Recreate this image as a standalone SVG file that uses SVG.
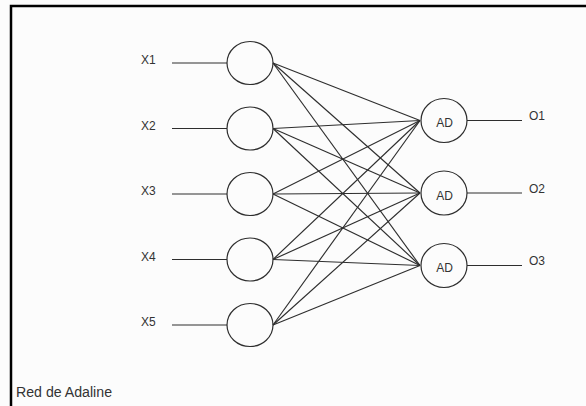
<svg xmlns="http://www.w3.org/2000/svg" width="586" height="406" viewBox="0 0 586 406">
<style>
.bg{fill:#fcfcfc}
.frame{stroke:#000;stroke-width:2.5;fill:none}
.node{fill:none;stroke:#2e2e2e;stroke-width:1.2}
.ln{stroke:#2e2e2e;stroke-width:1.15;fill:none}
.t{font-family:"Liberation Sans",Arial,sans-serif;font-size:12px;fill:#333}
.cap{font-family:"Liberation Sans",Arial,sans-serif;font-size:15.5px;fill:#333}
</style>
<rect class="bg" x="0" y="0" width="586" height="406"/>
<path class="frame" d="M11,406 V6 H586"/>
<g id="connectors">
<line class="ln" x1="172" y1="63" x2="227" y2="63"/>
<line class="ln" x1="172" y1="128.5" x2="227" y2="128.5"/>
<line class="ln" x1="172" y1="194" x2="227" y2="194"/>
<line class="ln" x1="172" y1="259.5" x2="227" y2="259.5"/>
<line class="ln" x1="172" y1="325" x2="227" y2="325"/>
<line class="ln" x1="467" y1="120.5" x2="522" y2="120.5"/>
<line class="ln" x1="467" y1="193" x2="522" y2="193"/>
<line class="ln" x1="467" y1="265.5" x2="522" y2="265.5"/>
<g id="weights">
<line class="ln" x1="273" y1="63" x2="420" y2="120.5"/>
<line class="ln" x1="273" y1="63" x2="420" y2="193"/>
<line class="ln" x1="273" y1="63" x2="420" y2="265.5"/>
<line class="ln" x1="273" y1="128.5" x2="420" y2="120.5"/>
<line class="ln" x1="273" y1="128.5" x2="420" y2="193"/>
<line class="ln" x1="273" y1="128.5" x2="420" y2="265.5"/>
<line class="ln" x1="273" y1="194" x2="420" y2="120.5"/>
<line class="ln" x1="273" y1="194" x2="420" y2="193"/>
<line class="ln" x1="273" y1="194" x2="420" y2="265.5"/>
<line class="ln" x1="273" y1="259.5" x2="420" y2="120.5"/>
<line class="ln" x1="273" y1="259.5" x2="420" y2="193"/>
<line class="ln" x1="273" y1="259.5" x2="420" y2="265.5"/>
<line class="ln" x1="273" y1="325" x2="420" y2="120.5"/>
<line class="ln" x1="273" y1="325" x2="420" y2="193"/>
<line class="ln" x1="273" y1="325" x2="420" y2="265.5"/>
</g>
</g>
<g id="in1"><text class="t" x="141" y="64">X1</text><ellipse class="node" cx="250" cy="63" rx="23" ry="21.5"/></g>
<g id="in2"><text class="t" x="141" y="130">X2</text><ellipse class="node" cx="250" cy="128.5" rx="23" ry="21.5"/></g>
<g id="in3"><text class="t" x="141" y="195">X3</text><ellipse class="node" cx="250" cy="194" rx="23" ry="21.5"/></g>
<g id="in4"><text class="t" x="141" y="261">X4</text><ellipse class="node" cx="250" cy="259.5" rx="23" ry="21.5"/></g>
<g id="in5"><text class="t" x="141" y="326">X5</text><ellipse class="node" cx="250" cy="325" rx="23" ry="21.5"/></g>
<g id="ad1"><ellipse class="node" cx="444" cy="120.5" rx="23" ry="22"/><text class="t" x="444.5" y="127" text-anchor="middle">AD</text></g>
<g id="ad2"><ellipse class="node" cx="444" cy="193" rx="23" ry="22"/><text class="t" x="444.5" y="199.5" text-anchor="middle">AD</text></g>
<g id="ad3"><ellipse class="node" cx="444" cy="265.5" rx="23" ry="22"/><text class="t" x="444.5" y="272" text-anchor="middle">AD</text></g>
<g id="out1"><text class="t" x="529" y="120">O1</text></g>
<g id="out2"><text class="t" x="529" y="193">O2</text></g>
<g id="out3"><text class="t" x="529" y="265">O3</text></g>
<text class="cap" x="16" y="397" textLength="96" lengthAdjust="spacingAndGlyphs">Red de Adaline</text>
</svg>
